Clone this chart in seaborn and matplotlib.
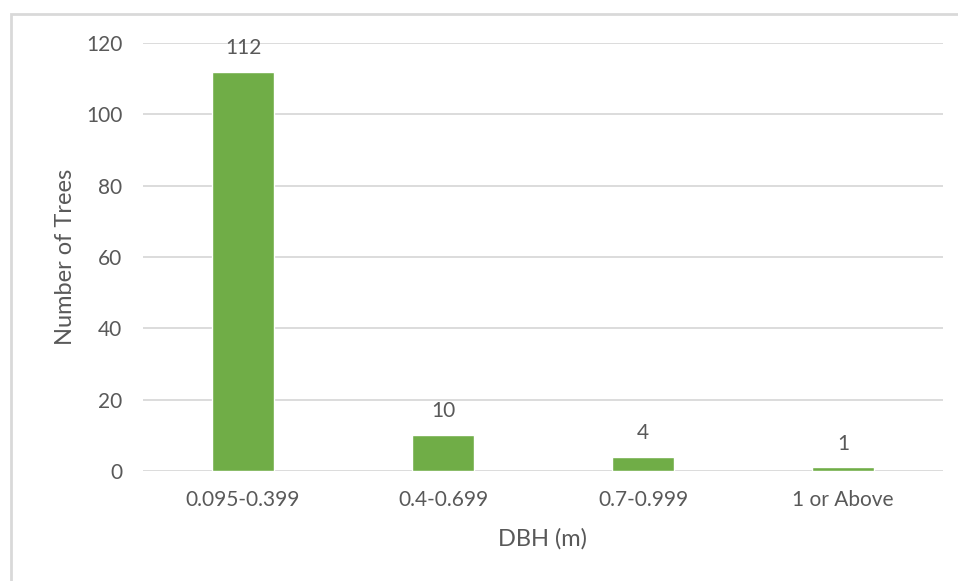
import matplotlib
matplotlib.use("Agg")
import matplotlib.pyplot as plt
from matplotlib.patches import Rectangle
import seaborn as sns
import pandas as pd

categories = ["0.095-0.399", "0.4-0.699", "0.7-0.999", "1 or Above"]
counts = [112, 10, 4, 1]
y_ticks = [0, 20, 40, 60, 80, 100, 120]

sns.set_theme(style="white")
plt.rcParams["font.family"] = ["Lato", "DejaVu Sans"]

text_color = "#595959"
grid_color = "#D9D9D9"
bar_color = "#70AD47"
fs = 15
title_fs = 17

df = pd.DataFrame({"DBH": categories, "Trees": counts})

fig = plt.figure(figsize=(9.58, 5.81), dpi=100)
ax = fig.add_axes([143 / 958, 1 - 471 / 581, 800 / 958, 428 / 581])

sns.barplot(data=df, x="DBH", y="Trees", color=bar_color, width=0.31,
            saturation=1, ax=ax, zorder=3)

ax.set_ylim(0, 120)
ax.set_yticks(y_ticks)
ax.set_xlim(-0.5, len(categories) - 0.5)
ax.yaxis.grid(True, color=grid_color, linewidth=1.3, zorder=0)
ax.set_axisbelow(True)
for s in ax.spines.values():
    s.set_visible(False)
ax.tick_params(axis="both", length=0, labelsize=fs, colors=text_color)
ax.tick_params(axis="y", pad=15)
ax.tick_params(axis="x", pad=14)

for i, v in enumerate(counts):
    ax.annotate(str(v), (i, v), xytext=(0, 10), textcoords="offset points",
                ha="center", va="bottom", fontsize=fs, color=text_color)

ax.set_xlabel("DBH (m)", fontsize=title_fs, color=text_color, labelpad=13)
ax.set_ylabel("Number of Trees", fontsize=title_fs, color=text_color, labelpad=7)

# outer chart border
fig.patches.append(Rectangle((11 / 958, -0.1), 1.2, 1 - 14 / 581 + 0.1,
                             transform=fig.transFigure, fill=False,
                             edgecolor="#D9D9D9", linewidth=2))

fig.savefig("out.png", dpi=100)
